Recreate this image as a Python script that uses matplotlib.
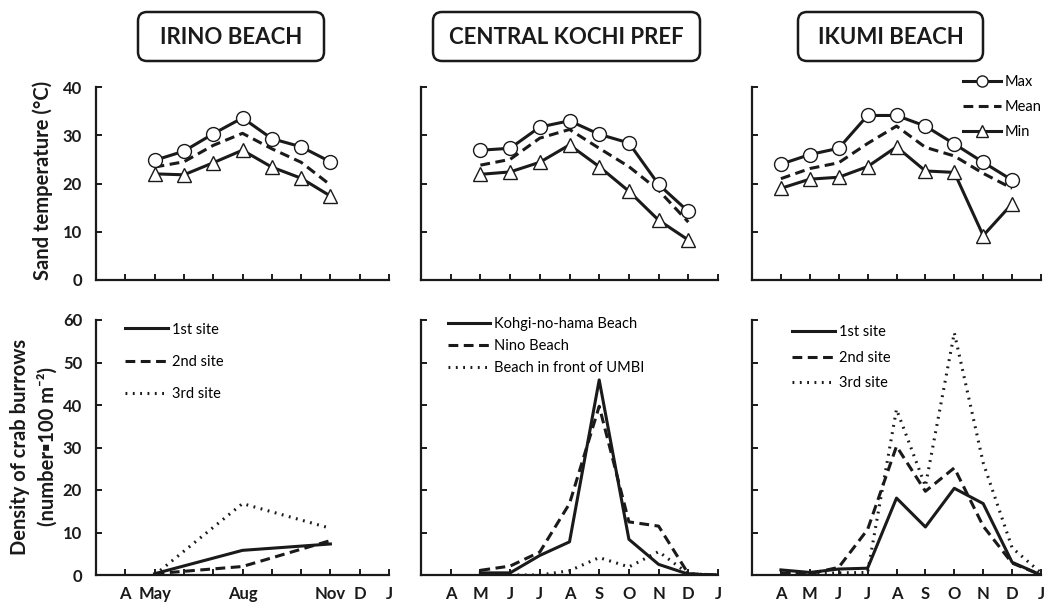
import matplotlib
matplotlib.use('Agg')
import matplotlib.pyplot as plt
from matplotlib.patches import FancyBboxPatch
from matplotlib.transforms import IdentityTransform

plt.rcParams['font.family'] = ['Lato', 'DejaVu Sans']

# ======================== DATA ========================
MONTH_POS = {'Mar': 0, 'Apr': 1, 'May': 2, 'Jun': 3, 'Jul': 4, 'Aug': 5,
             'Sep': 6, 'Oct': 7, 'Nov': 8, 'Dec': 9, 'Jan': 10}
tick_pos = [1, 2, 3, 4, 5, 6, 7, 8, 9, 10]
tick_labels_full = ['A', 'M', 'J', 'J', 'A', 'S', 'O', 'N', 'D', 'J']
tick_labels_irino = ['A', 'May', '', '', 'Aug', '', '', 'Nov', 'D', 'J']

titles = ['IRINO BEACH', 'CENTRAL KOCHI PREF', 'IKUMI BEACH']

# sand temperature
irino_t_months = ['May', 'Jun', 'Jul', 'Aug', 'Sep', 'Oct', 'Nov']
irino_max = [24.8, 26.7, 30.3, 33.6, 29.3, 27.6, 24.5]
irino_mean = [23.4, 24.5, 27.9, 30.4, 27.2, 24.4, 19.7]
irino_min = [22.0, 21.8, 24.3, 26.9, 23.4, 21.1, 17.4]

central_t_months = ['May', 'Jun', 'Jul', 'Aug', 'Sep', 'Oct', 'Nov', 'Dec']
central_max = [26.9, 27.3, 31.7, 33.0, 30.2, 28.4, 19.8, 14.2]
central_mean = [23.8, 25.0, 29.4, 31.2, 27.3, 23.5, 18.6, 12.0]
central_min = [21.9, 22.4, 24.4, 28.0, 23.5, 18.4, 12.4, 8.3]

ikumi_t_months = ['Apr', 'May', 'Jun', 'Jul', 'Aug', 'Sep', 'Oct', 'Nov', 'Dec']
ikumi_max = [24.0, 26.0, 27.3, 34.1, 34.1, 31.9, 28.2, 24.4, 20.7]
ikumi_mean = [21.0, 23.1, 24.3, 28.3, 31.9, 27.5, 25.7, 22.1, 19.0]
ikumi_min = [19.0, 20.9, 21.3, 23.5, 27.6, 22.6, 22.3, 9.2, 15.8]

# crab burrow density
irino_d_months = ['May', 'Aug', 'Nov']
irino_site1 = [0.3, 5.8, 7.3]
irino_site2 = [0.3, 2.0, 8.1]
irino_site3 = [0.0, 16.8, 11.0]

central_d_months = ['May', 'Jun', 'Jul', 'Aug', 'Sep', 'Oct', 'Nov', 'Dec', 'Jan']
central_kohgi = [0.5, 0.5, 4.6, 7.8, 45.9, 8.4, 2.5, 0.2, 0.0]
central_nino = [1.1, 2.1, 5.4, 16.8, 39.7, 12.5, 11.5, 0.3, 0.0]
central_umbi_months = ['Jun', 'Jul', 'Aug', 'Sep', 'Oct', 'Nov', 'Dec', 'Jan']
central_umbi = [0.0, 0.0, 1.0, 4.1, 1.9, 5.5, 0.3, 0.0]

ikumi_d_months = ['Apr', 'May', 'Jun', 'Jul', 'Aug', 'Sep', 'Oct', 'Nov', 'Dec', 'Jan']
ikumi_site1 = [1.2, 0.6, 1.4, 1.6, 18.1, 11.3, 20.4, 16.8, 3.0, 0.0]
ikumi_site2 = [0.5, 0.3, 1.8, 10.7, 30.3, 19.7, 25.2, 11.5, 2.8, 0.0]
ikumi_site3 = [0.3, 0.2, 0.5, 0.6, 39.0, 20.9, 57.0, 26.4, 6.4, 0.5]

# ======================== STYLE ========================
W, H = 1046, 603
INK = '#1a1a1a'
LW = 2.2
DASH = (0, (3.2, 1.8))
DOT = (0, (0.6, 1.8))
DOT_LW = 2.2
col_x = [(96, 389), (421, 718), (752, 1041)]
row_y = [(87, 280), (320, 575)]
box_x = [(138, 324), (433, 700), (798, 983)]


def pos(months):
    return [MONTH_POS[m] for m in months]


def style_axes(ax, ymax, show_y, xlabels):
    ax.set_xlim(0, 10)
    ax.set_ylim(0, ymax)
    ax.set_yticks(range(0, ymax + 1, 10))
    for s in ['top', 'right']:
        ax.spines[s].set_visible(False)
    for s in ['left', 'bottom']:
        ax.spines[s].set_linewidth(1.6)
        ax.spines[s].set_color(INK)
    ax.set_xticks(tick_pos)
    ax.tick_params(direction='in', length=4, width=1.4, labelsize=12, pad=8,
                   colors=INK)
    ax.tick_params(axis='y', pad=10)
    if xlabels is None:
        ax.set_xticklabels([])
    else:
        ax.set_xticklabels(xlabels, fontweight='bold')
    if show_y:
        for t in ax.get_yticklabels():
            t.set_fontweight('bold')
    else:
        ax.set_yticklabels([])


def legend(ax, anchor, spacing, size=10.5):
    ax.legend(loc='upper left', bbox_to_anchor=anchor, frameon=False,
              fontsize=size, handlelength=2.9, handletextpad=0.3,
              labelspacing=spacing, borderpad=0, borderaxespad=0)


fig = plt.figure(figsize=(W / 100, H / 100), dpi=100)
axes = []
for r in range(2):
    row = []
    for c in range(3):
        x0, x1 = col_x[c]
        y0, y1 = row_y[r]
        ax = fig.add_axes([x0 / W, 1 - y1 / H, (x1 - x0) / W, (y1 - y0) / H])
        row.append(ax)
    axes.append(row)

# ======================== TEMPERATURE ========================
temp_sets = [
    (irino_t_months, irino_max, irino_mean, irino_min),
    (central_t_months, central_max, central_mean, central_min),
    (ikumi_t_months, ikumi_max, ikumi_mean, ikumi_min),
]
for c, (m, tmax, tmean, tmin) in enumerate(temp_sets):
    ax = axes[0][c]
    x = pos(m)
    ax.plot(x, tmax, color=INK, lw=LW, marker='o', ms=10,
            mfc='white', mec=INK, mew=1.0, label='Max', zorder=3)
    ax.plot(x, tmean, color=INK, lw=LW, ls=DASH, label='Mean')
    ax.plot(x, tmin, color=INK, lw=LW, marker='^', ms=10,
            mfc='white', mec=INK, mew=1.0, label='Min', zorder=3)
    style_axes(ax, 40, c == 0, None)

axes[0][2].legend(loc='upper left', bbox_to_anchor=(0.73, 1.06), frameon=False,
                  fontsize=10.5, handlelength=2.6, handletextpad=0.25,
                  labelspacing=0.75, borderpad=0, borderaxespad=0, markerscale=0.8)

# ======================== DENSITY ========================
ax = axes[1][0]
x = pos(irino_d_months)
ax.plot(x, irino_site1, color=INK, lw=LW, label='1st site')
ax.plot(x, irino_site2, color=INK, lw=LW, ls=DASH, label='2nd site')
ax.plot(x, irino_site3, color=INK, lw=DOT_LW, ls=DOT, label='3rd site')
style_axes(ax, 60, True, tick_labels_irino)
legend(ax, (0.1, 0.99), 1.25)

ax = axes[1][1]
ax.plot(pos(central_d_months), central_kohgi, color=INK, lw=LW,
        label='Kohgi-no-hama Beach')
ax.plot(pos(central_d_months), central_nino, color=INK, lw=LW, ls=DASH,
        label='Nino Beach')
ax.plot(pos(central_umbi_months), central_umbi, color=INK, lw=DOT_LW, ls=DOT,
        label='Beach in front of UMBI')
style_axes(ax, 60, False, tick_labels_full)
legend(ax, (0.09, 1.01), 0.55)

ax = axes[1][2]
x = pos(ikumi_d_months)
ax.plot(x, ikumi_site1, color=INK, lw=LW, label='1st site')
ax.plot(x, ikumi_site2, color=INK, lw=LW, ls=DASH, label='2nd site')
ax.plot(x, ikumi_site3, color=INK, lw=DOT_LW, ls=DOT, label='3rd site')
style_axes(ax, 60, False, tick_labels_full)
legend(ax, (0.14, 0.98), 0.8)

# ======================== TITLES & LABELS ========================
for c in range(3):
    bx0, bx1 = box_x[c]
    patch = FancyBboxPatch((bx0, H - 61), bx1 - bx0, 49,
                           boxstyle='round,pad=0,rounding_size=9',
                           transform=IdentityTransform(), fill=False,
                           ec=INK, lw=1.8)
    fig.add_artist(patch)
    fig.text((bx0 + bx1) / 2 / W, 1 - 37 / H, titles[c], ha='center', va='center',
             fontsize=16, fontweight='bold', color=INK)

fig.text(43 / W, 1 - 180 / H, 'Sand temperature (\u00b0C)', rotation=90,
         ha='center', va='center', fontsize=14.5, fontweight='bold', color=INK)
fig.text(20 / W, 1 - 447 / H, 'Density of crab burrows', rotation=90,
         ha='center', va='center', fontsize=14.5, fontweight='bold', color=INK)
fig.text(48 / W, 1 - 447 / H, '(number\u25aa100 m\u207b\u00b2)', rotation=90,
         ha='center', va='center', fontsize=14.5, fontweight='bold', color=INK)

fig.savefig('out.png', dpi=100)
